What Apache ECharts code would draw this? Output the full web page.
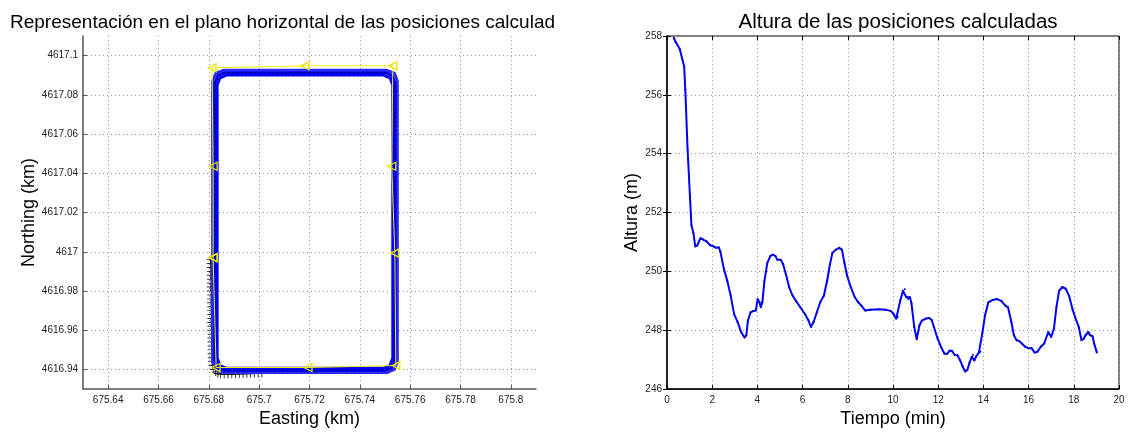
<!DOCTYPE html>
<html>
<head>
<meta charset="utf-8">
<script src="https://cdn.jsdelivr.net/npm/echarts@6/dist/echarts.min.js"></script>
<style>
  html, body { margin: 0; padding: 0; background: #fff; }
  #chart { width: 1130px; height: 433px; }
</style>
</head>
<body>
<div id="chart"></div>
<script>
// tick values (km)
var eastTicks = [675.64, 675.66, 675.68, 675.7, 675.72, 675.74, 675.76, 675.78, 675.8];
var northTicks = [4616.94, 4616.96, 4616.98, 4617, 4617.02, 4617.04, 4617.06, 4617.08, 4617.1];

// three laps of the computed track (easting, northing)
var lap1 = [
    [675.6815, 4616.990], [675.6815, 4617.087], [675.6828, 4617.0910], [675.6858, 4617.0925],
    [675.7507, 4617.0925], [675.7537, 4617.0911], [675.7549, 4617.087], [675.7549, 4616.944],
    [675.7537, 4616.940], [675.7507, 4616.9384], [675.6858, 4616.9384], [675.6828, 4616.940],
    [675.6815, 4616.944], [675.6815, 4616.990]
];
var lap2 = [
    [675.6824, 4616.992], [675.6824, 4617.086], [675.6836, 4617.0898], [675.6864, 4617.0913],
    [675.7500, 4617.0913], [675.7528, 4617.0899], [675.7540, 4617.086], [675.7540, 4616.945],
    [675.7528, 4616.941], [675.7500, 4616.9395], [675.6864, 4616.9395], [675.6836, 4616.941],
    [675.6824, 4616.945], [675.6824, 4616.992]
];
var lap3 = [
    [675.6833, 4616.995], [675.6833, 4617.085], [675.6844, 4617.0886], [675.6870, 4617.0901],
    [675.7494, 4617.0901], [675.7520, 4617.0887], [675.7531, 4617.085], [675.7531, 4616.946],
    [675.7520, 4616.942], [675.7494, 4616.9406], [675.6870, 4616.9406], [675.6844, 4616.942],
    [675.6833, 4616.946], [675.6833, 4616.995]
];

// reference path with markers
var refPath = [
    [675.6817, 4616.997], [675.6817, 4617.0436], [675.6813, 4617.0938], [675.7182, 4617.0948],
    [675.7531, 4617.0948], [675.7527, 4617.0436], [675.7539, 4616.9993], [675.7543, 4616.942],
    [675.7194, 4616.941], [675.6829, 4616.941], [675.6817, 4616.997]
];

// first fixes (+)
var startFixes = [
    [675.6807, 4616.996], [675.6808, 4616.994], [675.6808, 4616.992], [675.6809, 4616.990],
    [675.6808, 4616.988], [675.6809, 4616.986], [675.6809, 4616.984], [675.6808, 4616.982],
    [675.6809, 4616.980], [675.6810, 4616.978], [675.6809, 4616.976], [675.6809, 4616.974],
    [675.6810, 4616.972], [675.6809, 4616.970], [675.6810, 4616.968], [675.6810, 4616.966],
    [675.6809, 4616.964], [675.6810, 4616.962], [675.6810, 4616.960], [675.6811, 4616.958],
    [675.6810, 4616.956], [675.6811, 4616.954], [675.6811, 4616.952], [675.6811, 4616.950],
    [675.6811, 4616.948], [675.6812, 4616.946], [675.6812, 4616.944], [675.6815, 4616.942],
    [675.6820, 4616.940], [675.6827, 4616.9387], [675.6836, 4616.9379], [675.6846, 4616.9376],
    [675.6861, 4616.9375], [675.6876, 4616.9375], [675.6891, 4616.9376], [675.6906, 4616.9376],
    [675.6921, 4616.9377], [675.6936, 4616.9377], [675.6951, 4616.9378], [675.6966, 4616.9378],
    [675.6981, 4616.9379], [675.6996, 4616.9380], [675.7011, 4616.9381]
];

// altitude vs time
var timeMin = [
    0.30, 0.38, 0.56, 0.76, 0.81, 0.91, 1.02, 1.08, 1.17, 1.25, 1.34, 1.48, 1.60, 1.75, 1.91,
    2.06, 2.18, 2.29, 2.36, 2.52, 2.67, 2.82, 2.97, 3.13, 3.28, 3.43, 3.51, 3.58, 3.70, 3.81,
    3.93, 4.01, 4.09, 4.15, 4.22, 4.31, 4.44, 4.57, 4.68, 4.80, 4.88, 5.03, 5.14, 5.26, 5.41,
    5.56, 5.72, 5.90, 6.10, 6.25, 6.37, 6.48, 6.63, 6.78, 6.94, 7.09, 7.21, 7.32, 7.47, 7.62,
    7.74, 7.85, 7.97, 8.13, 8.31, 8.46, 8.61, 8.77, 9.00, 9.38, 9.68, 9.91, 10.02, 10.14, 10.21,
    10.32, 10.44, 10.52, 10.59, 10.67, 10.75, 10.82, 10.94, 11.05, 11.17, 11.28, 11.43, 11.59, 11.71, 11.81,
    11.97, 12.12, 12.27, 12.39, 12.50, 12.61, 12.73, 12.85, 12.96, 13.08, 13.19, 13.29, 13.38, 13.49, 13.54,
    13.60, 13.67, 13.80, 13.87, 13.95, 14.07, 14.22, 14.41, 14.60, 14.79, 14.98, 15.09, 15.24, 15.35, 15.47,
    15.59, 15.70, 15.85, 15.98, 16.13, 16.27, 16.39, 16.54, 16.69, 16.77, 16.87, 17.00, 17.12, 17.23, 17.35,
    17.49, 17.64, 17.79, 17.94, 18.06, 18.22, 18.34, 18.45, 18.52, 18.64, 18.72, 18.83, 18.90, 19.02
];
var altitude = [
    257.94, 257.80, 257.57, 256.96, 256.17, 254.16, 252.48, 251.58, 251.30, 250.85, 250.88, 251.13, 251.08, 251.02, 250.89,
    250.85, 250.80, 250.82, 250.68, 250.07, 249.67, 249.17, 248.55, 248.27, 247.94, 247.75, 247.83, 248.33, 248.61, 248.65,
    248.67, 249.06, 248.95, 248.78, 248.95, 249.67, 250.29, 250.52, 250.57, 250.52, 250.40, 250.40, 250.24, 249.90, 249.45,
    249.17, 248.98, 248.78, 248.55, 248.35, 248.11, 248.27, 248.61, 248.95, 249.17, 249.70, 250.24, 250.63, 250.74, 250.80,
    250.74, 250.29, 249.85, 249.47, 249.12, 248.95, 248.83, 248.67, 248.70, 248.71, 248.70, 248.65, 248.56, 248.39, 248.44,
    249.00, 249.34, 249.39, 249.12, 249.06, 249.12, 248.90, 248.11, 247.69, 248.17, 248.33, 248.39, 248.42, 248.35, 248.11,
    247.72, 247.44, 247.21, 247.19, 247.30, 247.30, 247.16, 247.15, 246.99, 246.77, 246.60, 246.65, 246.88, 247.10, 247.16,
    246.97, 247.10, 247.24, 247.27, 247.89, 248.50, 248.95, 249.03, 249.06, 249.00, 248.83, 248.78, 248.27, 247.83, 247.66,
    247.63, 247.55, 247.44, 247.39, 247.39, 247.24, 247.27, 247.44, 247.55, 247.72, 247.94, 247.77, 248.05, 248.78, 249.34,
    249.47, 249.41, 249.17, 248.72, 248.44, 248.11, 247.66, 247.72, 247.83, 247.94, 247.83, 247.80, 247.55, 247.24
];

var altSeries = timeMin.map(function (t, i) { return [t, altitude[i]]; });

var font = 'Liberation Sans, Arial, sans-serif';
var dotted = { show: true, lineStyle: { color: '#9a9a9a', type: [1, 3], width: 1 } };
var fmt = function (v) { return String(+(+v).toFixed(2)); };

var chart = echarts.init(document.getElementById('chart'), null, { renderer: 'canvas' });
chart.setOption({
    animation: false,
    textStyle: { fontFamily: font },
    title: [
        {
            text: 'Representación en el plano horizontal de las posiciones calculad',
            left: 5, top: 8,
            textStyle: { fontFamily: font, fontSize: 19, fontWeight: 'normal', color: '#000' }
        },
        {
            text: 'Altura de las posiciones calculadas',
            left: 893, top: 7, textAlign: 'center',
            textStyle: { fontFamily: font, fontSize: 20.5, fontWeight: 'normal', color: '#000' }
        }
    ],
    grid: [
        { left: 83, right: 594, top: 36, bottom: 40 },
        { left: 667, right: 11, top: 36, bottom: 40, show: true, borderColor: '#000', borderWidth: 1 }
    ],
    xAxis: [
        {
            gridIndex: 0, type: 'value', min: 675.63, max: 675.81,
            name: 'Easting (km)', nameLocation: 'middle', nameGap: 16,
            nameTextStyle: { fontSize: 18, color: '#000', fontFamily: font },
            axisLine: { show: true, lineStyle: { color: '#555', width: 1.5 } },
            axisTick: { show: true, inside: true, length: 4, customValues: eastTicks, lineStyle: { color: '#555' } },
            axisLabel: { customValues: eastTicks, formatter: fmt, fontSize: 10, color: '#222', margin: 6 },
            splitLine: dotted
        },
        {
            gridIndex: 1, type: 'value', min: 0, max: 20, interval: 2,
            name: 'Tiempo (min)', nameLocation: 'middle', nameGap: 16,
            nameTextStyle: { fontSize: 18, color: '#000', fontFamily: font },
            axisLine: { show: true, onZero: false, lineStyle: { color: '#000', width: 1.5 } },
            axisTick: { show: true, inside: true, length: 4, lineStyle: { color: '#000' } },
            axisLabel: { fontSize: 10, color: '#222', margin: 6 },
            splitLine: dotted
        },
        {
            gridIndex: 1, type: 'value', min: 0, max: 20, interval: 2, position: 'top',
            axisLine: { show: false },
            axisTick: { show: true, inside: true, length: 4, lineStyle: { color: '#000' } },
            axisLabel: { show: false }, splitLine: { show: false }
        }
    ],
    yAxis: [
        {
            gridIndex: 0, type: 'value', min: 4616.93, max: 4617.11,
            name: 'Northing (km)', nameLocation: 'middle', nameGap: 45,
            nameTextStyle: { fontSize: 18, color: '#000', fontFamily: font },
            axisLine: { show: true, lineStyle: { color: '#555', width: 1.5 } },
            axisTick: { show: true, inside: true, length: 4, customValues: northTicks, lineStyle: { color: '#555' } },
            axisLabel: { customValues: northTicks, formatter: fmt, fontSize: 10, color: '#222', margin: 5 },
            splitLine: dotted
        },
        {
            gridIndex: 1, type: 'value', min: 246, max: 258, interval: 2,
            name: 'Altura (m)', nameLocation: 'middle', nameGap: 26,
            nameTextStyle: { fontSize: 18, color: '#000', fontFamily: font },
            axisLine: { show: true, onZero: false, lineStyle: { color: '#000', width: 1.5 } },
            axisTick: { show: true, inside: true, length: 4, lineStyle: { color: '#000' } },
            axisLabel: { fontSize: 10, color: '#222', margin: 5 },
            splitLine: dotted
        },
        {
            gridIndex: 1, type: 'value', min: 246, max: 258, interval: 2, position: 'right',
            axisLine: { show: false },
            axisTick: { show: true, inside: true, length: 4, lineStyle: { color: '#000' } },
            axisLabel: { show: false }, splitLine: { show: false }
        }
    ],
    series: [
        { type: 'line', xAxisIndex: 0, yAxisIndex: 0, data: lap1, symbol: 'none',
          lineStyle: { color: '#2a2aff', width: 3 } },
        { type: 'line', xAxisIndex: 0, yAxisIndex: 0, data: lap2, symbol: 'none',
          lineStyle: { color: '#0000ff', width: 3 } },
        { type: 'line', xAxisIndex: 0, yAxisIndex: 0, data: lap3, symbol: 'none',
          lineStyle: { color: '#0000ff', width: 3 } },
        { type: 'line', xAxisIndex: 0, yAxisIndex: 0, data: lap2, symbol: 'none',
          lineStyle: { color: '#00004a', width: 1.5, type: [1.5, 3] } },
        { type: 'line', xAxisIndex: 0, yAxisIndex: 0, data: refPath,
          symbol: 'triangle', symbolSize: [8, 8], symbolRotate: 90, showAllSymbol: true,
          itemStyle: { color: 'rgba(0,0,0,0)', borderColor: '#e6e600', borderWidth: 1.3 },
          lineStyle: { color: '#f0f000', width: 1 } },
        { type: 'scatter', xAxisIndex: 0, yAxisIndex: 0, data: startFixes,
          symbol: 'path://M4.4,0H5.6V4.4H10V5.6H5.6V10H4.4V5.6H0V4.4H4.4Z', symbolSize: 8,
          itemStyle: { color: '#000' } },
        { type: 'line', xAxisIndex: 1, yAxisIndex: 1, data: altSeries,
          symbol: 'circle', symbolSize: 2, showAllSymbol: true,
          itemStyle: { color: '#0000cc' },
          lineStyle: { color: '#0000ff', width: 2 } }
    ]
});
</script>
</body>
</html>
